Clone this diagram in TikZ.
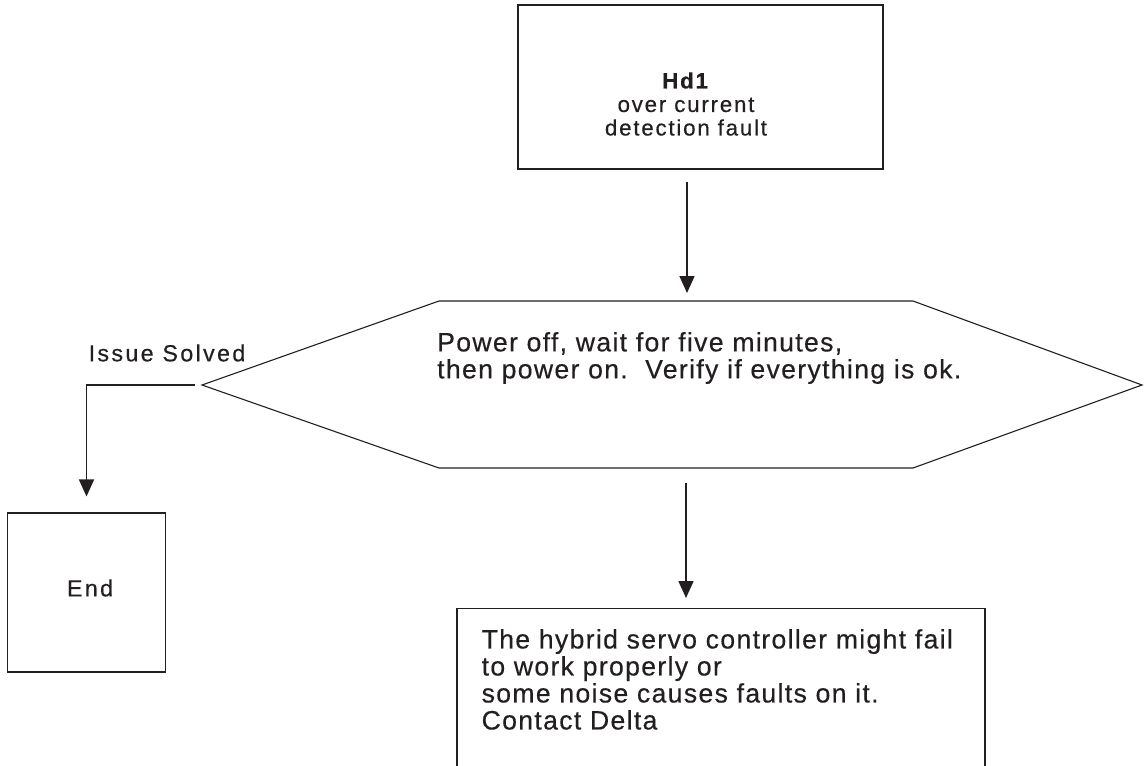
\documentclass[tikz,border=0pt]{standalone}
\usepackage{fontspec}
\setmainfont{Liberation Sans}
\newfontfamily\headfont[LetterSpace=8, FakeBold=0.4]{Liberation Sans}
\newfontfamily\labelfont[LetterSpace=10, FakeBold=0.4]{Liberation Sans}
\newfontfamily\bodyfont[LetterSpace=5, FakeBold=0.4]{Liberation Sans}
\usetikzlibrary{positioning, arrows.meta, calc}
\definecolor{InkDark}{RGB}{35, 31, 32}

\begin{document}
\begin{tikzpicture}[
    x=1pt, y=-1pt,
    frame/.style={draw=InkDark, line width=1.1pt, inner sep=0pt},
    headtext/.style={align=center, text=InkDark, font=\headfont\fontsize{22.3}{23.5}\selectfont},
    labeltext/.style={text=InkDark, font=\labelfont\fontsize{23.3}{24}\selectfont},
    bodytext/.style={align=left, inner sep=0pt, text=InkDark, font=\bodyfont\fontsize{26.6}{27}\selectfont},
    arrow/.style={-{Triangle[length=17pt, width=15pt]}, line width=1.6pt, draw=InkDark}
  ]
    \useasboundingbox (0,0) rectangle (1144,766);

    % Fault box
    \node[frame, minimum width=365pt, minimum height=164pt] (hd) at (700.5,87) {};
    \node[headtext] (hdtxt) at (686,104) {\textbf{Hd1}\\over current\\detection fault};

    % Check step
    \coordinate (hexL) at (202,385);
    \coordinate (hexR) at (1142,385);
    \coordinate (hexT) at (687,301);
    \coordinate (hexB) at (686,468);
    \draw[InkDark, line width=1.1pt] (hexL) -- (439,301) -- (913,301) -- (hexR)
      -- (913,468) -- (439,468) -- cycle;
    \node[bodytext, anchor=west] (chk) at (437,358)
      {Power off, wait for five minutes,\\then power on.\ \ Verify if everything is ok.};

    % End
    \node[frame, minimum width=158pt, minimum height=159pt] (endbox) at (86.5,592.5) {};
    \node[labeltext] (endtxt) at (90,588) {End};

    % Contact box
    \node[frame, minimum width=528pt, minimum height=200pt, anchor=north] (contact) at (721,608) {};
    \node[bodytext, anchor=north west] (contacttxt) at ([xshift=25pt, yshift=-21pt]contact.north west)
      {The hybrid servo controller might fail\\to work properly or\\some noise causes faults on it.\\Contact Delta};

    % Arrows
    \draw[arrow, shorten <=12pt, shorten >=8pt] (hd.south -| hexT) -- (hexT);
    \draw[arrow, shorten <=15pt, shorten >=10pt] (hexB) -- (hexB |- contact.north);
    \draw[arrow, shorten <=7pt, shorten >=16pt] (hexL) -| (endbox.north);
    \node[labeltext] (solved) at (167,353) {Issue Solved};
  \end{tikzpicture}
\end{document}
